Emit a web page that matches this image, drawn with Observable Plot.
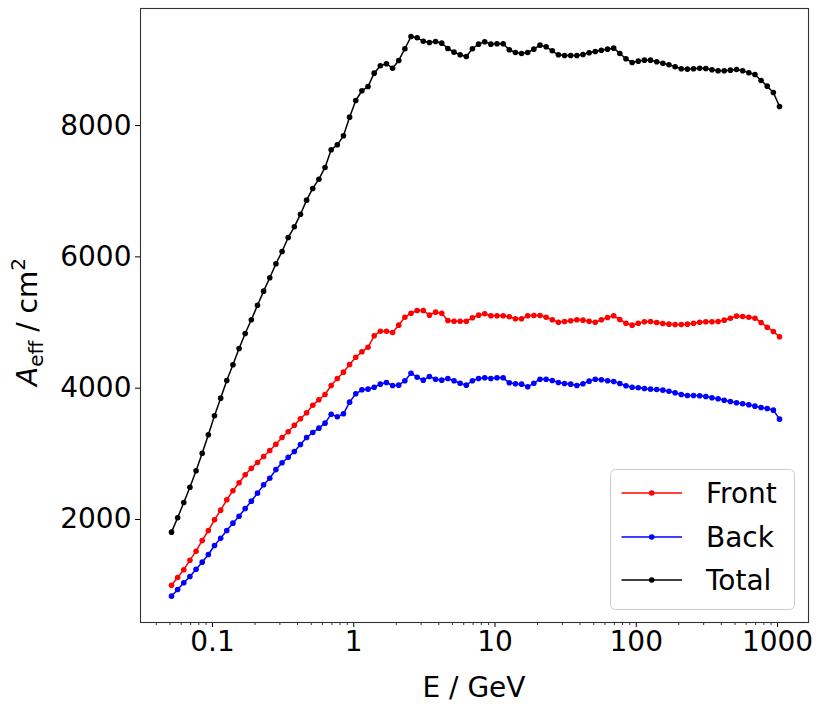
<!DOCTYPE html>
<html><head><meta charset="utf-8">
<script src="https://cdn.jsdelivr.net/npm/d3@7"></script>
<script src="https://cdn.jsdelivr.net/npm/@observablehq/plot@0.6"></script>
<style>body{margin:0;background:#fff;}</style>
</head><body><div id="chart"></div>
<script>
// Energy bins (GeV)
const energy = [
  0.05126, 0.05665, 0.06261, 0.06920, 0.07649, 0.08454, 0.09345, 0.1033, 0.1142, 0.1262, 0.1395, 0.1542, 0.1704, 0.1883, 0.2082, 0.2301, 0.2543, 0.2811, 0.3107, 0.3434, 0.3796, 0.4196, 0.4638,
  0.5126, 0.5665, 0.6261, 0.6920, 0.7649, 0.8454, 0.9345, 1.033, 1.142, 1.262, 1.395, 1.542, 1.704, 1.883, 2.082, 2.301, 2.543, 2.811, 3.107, 3.434, 3.796, 4.196, 4.638,
  5.126, 5.665, 6.261, 6.920, 7.649, 8.454, 9.345, 10.33, 11.42, 12.62, 13.95, 15.42, 17.04, 18.83, 20.82, 23.01, 25.43, 28.11, 31.07, 34.34, 37.96, 41.96, 46.38,
  51.26, 56.65, 62.61, 69.20, 76.49, 84.54, 93.45, 103.3, 114.2, 126.2, 139.5, 154.2, 170.4, 188.3, 208.2, 230.1, 254.3, 281.1, 310.7, 343.4, 379.6, 419.6, 463.8,
  512.6, 566.5, 626.1, 692.0, 764.9, 845.4, 934.5, 1033
];
const front = [
  999, 1117, 1234, 1380, 1517, 1680, 1832, 1995, 2142, 2300, 2437, 2559, 2681, 2781, 2868, 2960, 3051, 3147, 3249, 3336, 3436, 3534, 3625,
  3741, 3823, 3904, 4041, 4148, 4244, 4361, 4472, 4554, 4624, 4798, 4868, 4868, 4848, 4960, 5081, 5142, 5183, 5183, 5112, 5158, 5142, 5031,
  5020, 5020, 5020, 5072, 5112, 5133, 5103, 5103, 5103, 5087, 5057, 5057, 5103, 5107, 5107, 5081, 5042, 5005, 5016, 5027, 5042, 5036, 5020,
  5005, 5042, 5077, 5103, 5046, 4990, 4960, 4990, 5011, 5016, 5001, 4985, 4975, 4970, 4970, 4975, 4990, 5005, 5011, 5011, 5016, 5036, 5066,
  5097, 5092, 5081, 5066, 5001, 4929, 4864, 4783
];
const back = [
  832, 934, 1036, 1132, 1243, 1350, 1467, 1604, 1715, 1832, 1944, 2050, 2168, 2279, 2401, 2528, 2629, 2760, 2864, 2949, 3036, 3142, 3249,
  3325, 3391, 3467, 3604, 3564, 3610, 3787, 3915, 3976, 3985, 4015, 4061, 4087, 4041, 4046, 4113, 4228, 4167, 4122, 4178, 4137, 4122, 4148,
  4113, 4076, 4046, 4113, 4148, 4158, 4148, 4158, 4158, 4082, 4067, 4061, 4021, 4076, 4137, 4137, 4117, 4087, 4071, 4061, 4041, 4067, 4107,
  4137, 4128, 4113, 4102, 4071, 4036, 4015, 4006, 3995, 3985, 3980, 3970, 3954, 3930, 3904, 3889, 3889, 3884, 3874, 3854, 3838, 3817, 3797,
  3778, 3762, 3747, 3726, 3706, 3691, 3665, 3528
];
const total = [
  1807, 2026, 2259, 2492, 2742, 3010, 3290, 3580, 3848, 4117, 4356, 4605, 4833, 5042, 5264, 5478, 5682, 5895, 6082, 6295, 6458, 6650, 6864,
  7042, 7183, 7362, 7631, 7707, 7844, 8128, 8382, 8530, 8595, 8798, 8911, 8941, 8874, 8992, 9170, 9357, 9337, 9285, 9266, 9281, 9255, 9174,
  9118, 9078, 9052, 9170, 9240, 9276, 9240, 9246, 9246, 9154, 9113, 9098, 9113, 9164, 9225, 9200, 9139, 9078, 9068, 9068, 9068, 9083, 9109,
  9128, 9148, 9164, 9179, 9098, 9017, 8961, 8981, 8996, 8996, 8972, 8950, 8926, 8895, 8865, 8859, 8865, 8874, 8870, 8850, 8835, 8835, 8844,
  8854, 8835, 8804, 8778, 8687, 8600, 8504, 8291
];
const seriesNames = ["Front", "Back", "Total"];
const seriesColors = ["#ff0000", "#0000ff", "#000000"];
const xMajorTicks = [0.1, 1, 10, 100, 1000];
const xMinorMultipliers = [2, 3, 4, 5, 6, 7, 8, 9];
const xDecades = [0.01, 0.1, 1, 10, 100, 1000];
const yTicks = [2000, 4000, 6000, 8000];
const xDomain = [0.03092, 1657];
const yDomain = [431, 9783];

const rows = [];
[front, back, total].forEach((vals, s) =>
  vals.forEach((v, i) => rows.push({E: energy[i], A: v, series: seriesNames[s]})));

const xMinorTicks = xDecades.flatMap(p => xMinorMultipliers.map(k => +(k * p).toPrecision(3)))
  .filter(v => v > xDomain[0] && v < xDomain[1]);

const FONT = "DejaVu Sans, Verdana, sans-serif";

const chart = Plot.plot({
  width: 830,
  height: 712,
  marginLeft: 140,
  marginRight: 22,
  marginTop: 8,
  marginBottom: 90,
  style: {fontFamily: FONT, fontSize: "28px", background: "white", color: "black"},
  x: {type: "log", domain: xDomain},
  y: {domain: yDomain},
  color: {domain: seriesNames, range: seriesColors},
  marks: [
    Plot.axisX({ticks: xMinorTicks, tickSize: 3, tickFormat: () => "", label: null, strokeWidth: 0.8}),
    Plot.axisX({ticks: xMajorTicks, tickSize: 5, tickPadding: 4, tickFormat: d => String(d), label: null, fontSize: 28}),
    Plot.axisY({ticks: yTicks, tickSize: 5, tickPadding: 4, tickFormat: d => String(d), label: null, fontSize: 28}),
    Plot.line(rows, {x: "E", y: "A", z: "series", stroke: "series", strokeWidth: 1.5}),
    Plot.dot(rows, {x: "E", y: "A", fill: "series", r: 2.8}),
    Plot.frame({stroke: "#333", strokeWidth: 1.1})
  ]
});
document.getElementById("chart").appendChild(chart);

const svg = d3.select(chart);

// x label
svg.append("text")
  .attr("x", 474).attr("y", 697)
  .attr("text-anchor", "middle")
  .attr("font-family", FONT).attr("font-size", 28).attr("fill", "black")
  .text("E / GeV");

// y label with subscript/superscript
const yl = svg.append("text")
  .attr("transform", "translate(37,322) rotate(-90)")
  .attr("text-anchor", "middle")
  .attr("font-family", FONT).attr("font-size", 28).attr("fill", "black");
yl.append("tspan").attr("font-style", "italic").text("A");
yl.append("tspan").attr("font-size", 20).attr("dy", 6).text("eff");
yl.append("tspan").attr("dy", -6).text(" / cm");
yl.append("tspan").attr("font-size", 20).attr("dy", -12).text("2");

// legend
const lg = svg.append("g");
lg.append("rect")
  .attr("x", 610.5).attr("y", 469.5).attr("width", 184).attr("height", 140)
  .attr("rx", 5).attr("fill", "white").attr("fill-opacity", 0.8)
  .attr("stroke", "#cccccc").attr("stroke-width", 1);
const legendRowsY = [493, 537, 580];
seriesNames.forEach((name, i) => {
  const y = legendRowsY[i];
  lg.append("line").attr("x1", 621.5).attr("x2", 682).attr("y1", y).attr("y2", y)
    .attr("stroke", seriesColors[i]).attr("stroke-width", 1.5);
  lg.append("circle").attr("cx", 651.7).attr("cy", y).attr("r", 2.8).attr("fill", seriesColors[i]);
  lg.append("text").attr("x", 706).attr("y", y).attr("dy", "0.36em")
    .attr("text-anchor", "start")
    .attr("font-family", FONT).attr("font-size", 28).attr("fill", "black").text(name);
});
</script>
</body></html>
